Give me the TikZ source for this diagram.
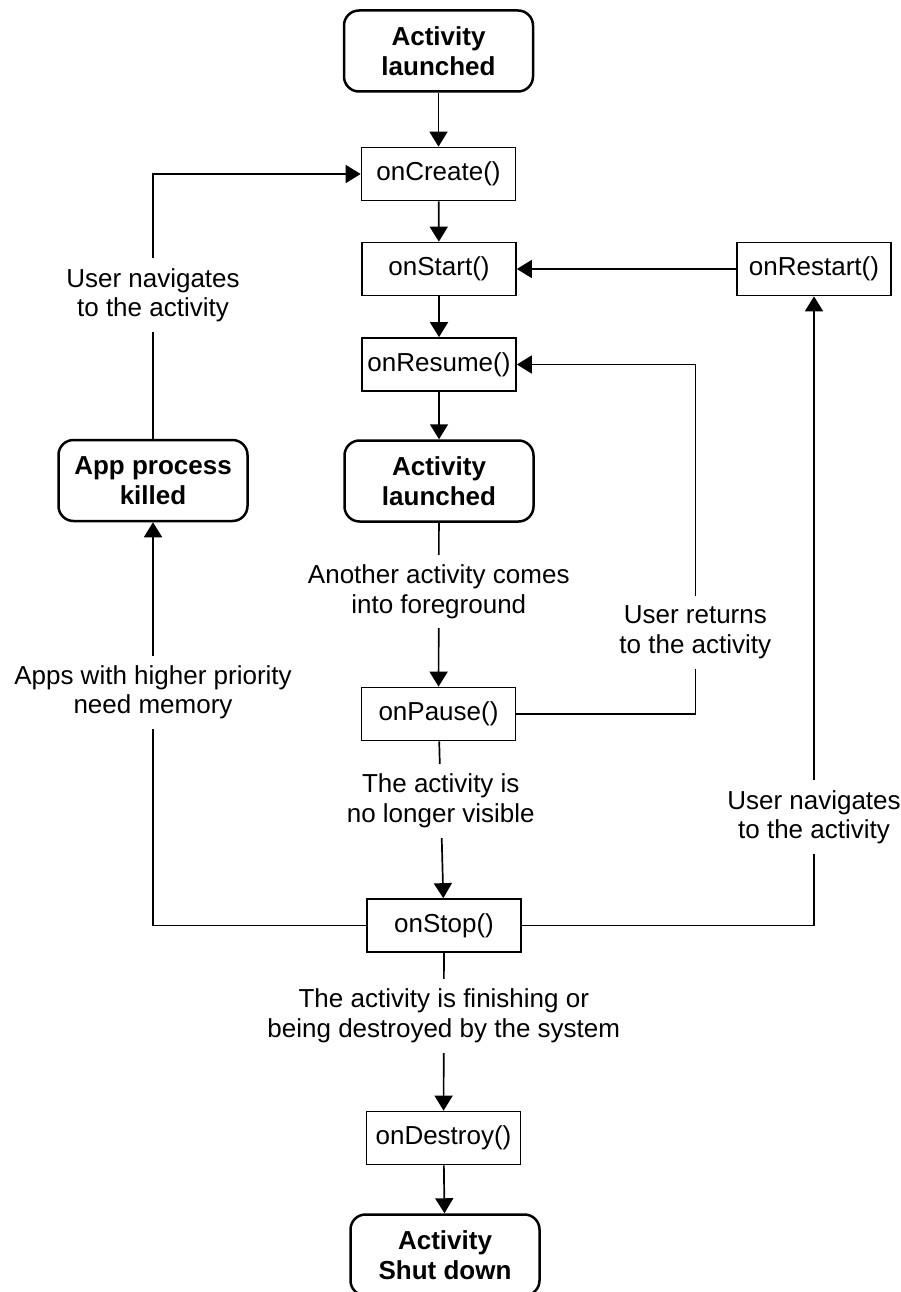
\documentclass[tikz,border=0pt]{standalone}
\usepackage{fontspec}
\setmainfont{Liberation Sans}
\usepackage{tikz}
\usetikzlibrary{arrows.meta}
\newcommand{\dfont}{\fontsize{26}{29.5}\selectfont}
\tikzset{
  state/.style={draw=black, line width=2.5pt, rounded corners=15pt, minimum width=189pt, minimum height=81pt, align=center, font=\dfont\bfseries},
  call/.style={draw=black, line width=1.7pt, minimum width=154pt, minimum height=53pt, inner xsep=4pt, font=\dfont},
  arr/.style={draw=black, line width=1.7pt, -{Triangle[width=18pt,length=15pt]}},
  lab/.style={fill=white, align=center, inner xsep=3pt, inner ysep=10pt, font=\dfont},
}

\begin{document}
\begin{tikzpicture}[x=1pt,y=-1pt]
  \useasboundingbox (0,0) rectangle (901,1292);
  % lifecycle states
  \node[state] (launch) at (438.5,51) {Activity\\launched};
  \node[call] (create) at (438.5,174) {onCreate()};
  \node[call] (start) at (439,269) {onStart()};
  \node[call] (restart) at (814,269) {onRestart()};
  \node[call] (resume) at (439,364.5) {onResume()};
  \node[state] (running) at (439,481) {Activity\\launched};
  \node[state] (killed) at (153,480.5) {App process\\killed};
  \node[call] (pause) at (438.5,714) {onPause()};
  \node[call] (stop) at (444,925.5) {onStop()};
  \node[call] (destroy) at (443.5,1138) {onDestroy()};
  \node[state] (shutdown) at (445,1255) {Activity\\Shut down};
  % main flow
  \draw[arr] (launch) -- (create);
  \draw[arr] (create) -- (start);
  \draw[arr] (start) -- (resume);
  \draw[arr] (resume) -- (running);
  \draw[arr] (running) -- node[lab,pos=0.42] {Another activity comes\\into foreground} (pause);
  \draw[arr] (pause) -- node[lab,pos=0.38] {The activity is\\no longer visible} (stop);
  \draw[arr] (stop) -- node[lab,pos=0.40] {The activity is finishing or\\being destroyed by the system} (destroy);
  \draw[arr] (destroy) -- (shutdown);
  % loops back
  \draw[arr] (restart) -- (start);
  \draw[arr] (pause.east) -- ++(179,0) |- node[lab,pos=0.117] {User returns\\to the activity} (resume.east);
  \draw[arr] (stop.east) -| node[lab,pos=0.586] {User navigates\\to the activity} (restart.south);
  \draw[arr] (stop.west) -| node[lab,pos=0.789] {Apps with higher priority\\need memory} (killed.south);
  \draw[arr] (killed.north) |- node[lab,pos=0.271] {User navigates\\to the activity} (create.west);
\end{tikzpicture}
\end{document}
